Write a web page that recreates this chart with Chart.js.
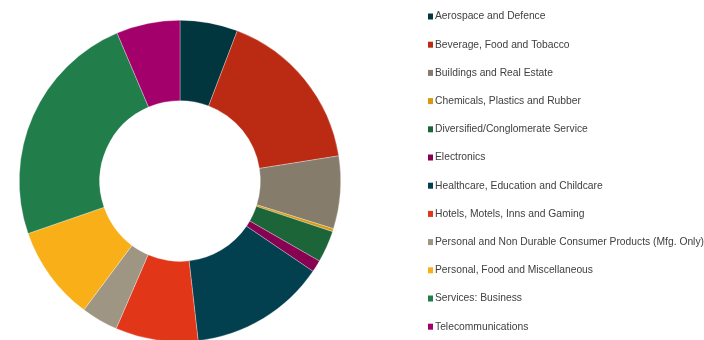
<!DOCTYPE html>
<html>
<head>
<meta charset="utf-8">
<script src="https://cdn.jsdelivr.net/npm/chart.js@4/dist/chart.umd.min.js"></script>
<style>
    html, body { margin: 0; padding: 0; background: #fff; overflow: hidden; }
    #wrap { position: relative; width: 704px; height: 362px; }
</style>
</head>
<body>
<div id="wrap"><canvas id="sectorChart"></canvas></div>
<script>
const sectors = [
    'Aerospace and Defence',
    'Beverage, Food and Tobacco',
    'Buildings and Real Estate',
    'Chemicals, Plastics and Rubber',
    'Diversified/Conglomerate Service',
    'Electronics',
    'Healthcare, Education and Childcare',
    'Hotels, Motels, Inns and Gaming',
    'Personal and Non Durable Consumer Products (Mfg. Only)',
    'Personal, Food and Miscellaneous',
    'Services: Business',
    'Telecommunications'
];
const shares = [5.8, 16.7, 7.3, 0.3, 3.2, 1.2, 13.7, 8.3, 3.7, 9.5, 23.9, 6.4];
const sectorColors = [
    '#01363f', '#bb2b13', '#857c6c', '#d99812', '#1c6539', '#870052',
    '#023f4f', '#e23619', '#9e9582', '#f9af17', '#217e4a', '#a3006b'
];

// simple legend drawn down the right side, one row per sector
const sideLegend = {
    id: 'sideLegend',
    afterDraw(chart) {
        const ctx = chart.ctx;
        const labels = chart.data.labels;
        const colors = chart.data.datasets[0].backgroundColor;
        ctx.save();
        ctx.font = '10.3px "Liberation Sans", Arial, sans-serif';
        ctx.textBaseline = 'middle';
        labels.forEach(function (label, i) {
            const y = 16.5 + i * 28.2;
            ctx.fillStyle = colors[i];
            ctx.fillRect(428, y - 3, 5, 6);
            ctx.fillStyle = '#404040';
            ctx.fillText(label, 435, y);
        });
        ctx.restore();
    }
};

new Chart(document.getElementById('sectorChart'), {
    type: 'doughnut',
    data: {
        labels: sectors,
        datasets: [{
            data: shares,
            backgroundColor: sectorColors,
            borderColor: 'rgba(255,255,255,0.6)',
            borderWidth: 0.5
        }]
    },
    options: {
        responsive: true,
        maintainAspectRatio: false,
        animation: false,
        cutout: '50%',
        layout: { padding: { left: 19, right: 363, top: 20, bottom: 20 } },
        plugins: {
            legend: { display: false },
            tooltip: { enabled: false }
        }
    },
    plugins: [sideLegend]
});
</script>
</body>
</html>
